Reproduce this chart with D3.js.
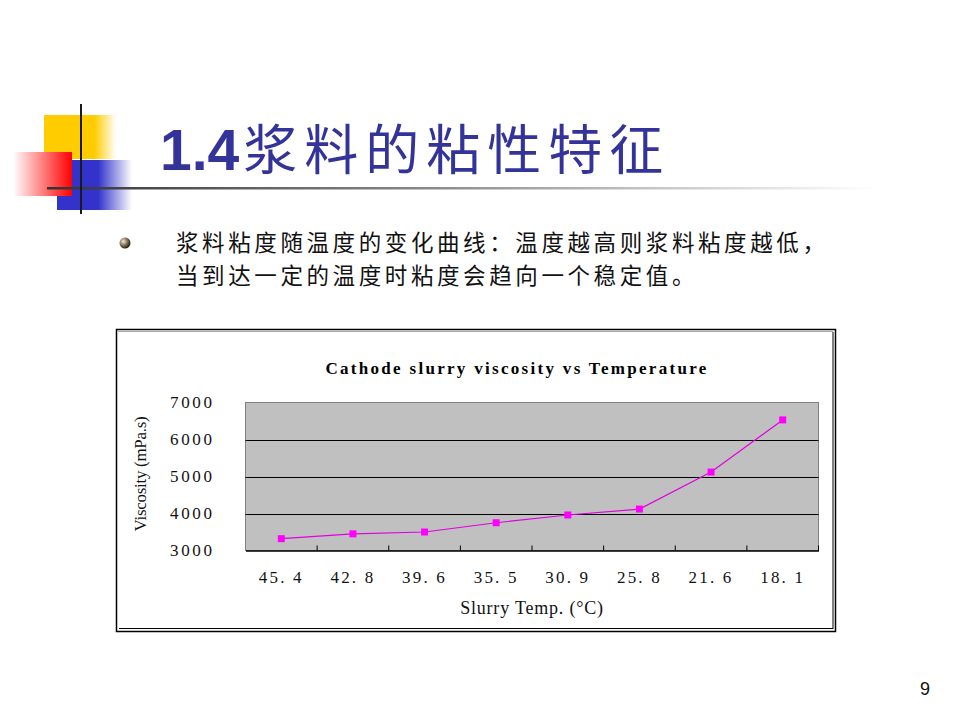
<!DOCTYPE html>
<html>
<head>
<meta charset="utf-8">
<script src="https://cdn.jsdelivr.net/npm/d3@7"></script>
<style>
  body { margin: 0; background: #fff; }
  svg { display: block; }
</style>
</head>
<body>
<svg width="960" height="720"></svg>
<script>
const temps = ["45.4", "42.8", "39.6", "35.5", "30.9", "25.8", "21.6", "18.1"];
const tempLabels = ["45. 4", "42. 8", "39. 6", "35. 5", "30. 9", "25. 8", "21. 6", "18. 1"];
const viscosity = [3320, 3450, 3500, 3750, 3960, 4120, 5120, 6530];
const yTicks = [3000, 4000, 5000, 6000, 7000];

const svg = d3.select("svg");
const defs = svg.append("defs");

function grad(id, stops, x2 = "100%", y2 = "0%") {
    const g = defs.append("linearGradient").attr("id", id)
        .attr("x1", "0%").attr("y1", "0%").attr("x2", x2).attr("y2", y2);
    stops.forEach(s => g.append("stop").attr("offset", s[0]).attr("stop-color", s[1]));
}
grad("gYellow", [["0%", "#ffcc00"], ["70%", "#ffcc00"], ["100%", "#ffffff"]]);
grad("gBlue", [["0%", "#3333cc"], ["55%", "#3333cc"], ["100%", "#ffffff"]]);
grad("gRed", [["0%", "#ffffff"], ["100%", "#ff0000"]]);
grad("gRule", [["0%", "#333333"], ["45%", "#888888"], ["100%", "#ffffff"]]);

// slide decoration
svg.append("rect").attr("x", 44).attr("y", 115).attr("width", 72).attr("height", 44).attr("fill", "url(#gYellow)");
svg.append("rect").attr("x", 57).attr("y", 160).attr("width", 75).attr("height", 50).attr("fill", "url(#gBlue)");
svg.append("rect").attr("x", 13).attr("y", 152).attr("width", 59).attr("height", 44).attr("fill", "url(#gRed)");
svg.append("rect").attr("x", 47).attr("y", 187).attr("width", 830).attr("height", 2.5).attr("fill", "url(#gRule)");
svg.append("line").attr("x1", 81).attr("x2", 81).attr("y1", 104).attr("y2", 214)
    .attr("stroke", "#1a1a1a").attr("stroke-width", 2);

// title
const title = svg.append("text").attr("x", 160).attr("y", 170).attr("fill", "#333399")
    .style("font-family", "'Noto Sans CJK SC', sans-serif").style("font-size", "54px");
title.append("tspan").text("1.4").style("font-family", "Arial, 'Liberation Sans', sans-serif")
    .style("font-weight", "bold").style("font-size", "57px");
title.append("tspan").text("浆料的粘性特征").attr("dx", 4).style("letter-spacing", "7px");

// bullet text
const bulletGrad = defs.append("radialGradient").attr("id", "gBullet").attr("cx", "35%").attr("cy", "35%").attr("r", "65%");
bulletGrad.append("stop").attr("offset", "0%").attr("stop-color", "#f4ecd8");
bulletGrad.append("stop").attr("offset", "60%").attr("stop-color", "#7a6a4a");
bulletGrad.append("stop").attr("offset", "100%").attr("stop-color", "#2a2418");
svg.append("circle").attr("cx", 125).attr("cy", 243).attr("r", 5.5).attr("fill", "url(#gBullet)");

const lines = ["浆料粘度随温度的变化曲线：温度越高则浆料粘度越低，", "当到达一定的温度时粘度会趋向一个稳定值。"];
svg.append("text")
    .attr("fill", "#111")
    .style("font-family", "'Noto Sans CJK SC', sans-serif").style("font-size", "22.5px")
    .style("letter-spacing", "3.6px")
    .selectAll("tspan").data(lines).join("tspan")
    .attr("x", 176).attr("y", (d, i) => 251 + i * 32.8)
    .text(d => d);

// page number
svg.append("text").attr("x", 930).attr("y", 695).attr("text-anchor", "end")
    .style("font-family", "'Liberation Sans', Arial, sans-serif").style("font-size", "18px")
    .attr("fill", "#111").text("9");

// chart frame
svg.append("rect").attr("x", 116.5).attr("y", 329.5).attr("width", 719).attr("height", 302)
    .attr("fill", "#fff").attr("stroke", "#000").attr("stroke-width", 1.5);
svg.append("line").attr("x1", 833).attr("x2", 833).attr("y1", 332).attr("y2", 629).attr("stroke", "#000").attr("stroke-width", 1);
svg.append("line").attr("x1", 119).attr("x2", 833).attr("y1", 628.5).attr("y2", 628.5).attr("stroke", "#000").attr("stroke-width", 1);
svg.append("line").attr("x1", 118).attr("x2", 833).attr("y1", 331.5).attr("y2", 331.5).attr("stroke", "#aaa").attr("stroke-width", 1);

const plot = { left: 245.5, top: 402.5, right: 818.5, bottom: 550.5 };

const x = d3.scaleBand().domain(temps).range([plot.left, plot.right]);
const y = d3.scaleLinear().domain([3000, 7000]).range([plot.bottom, plot.top]);

svg.append("text").attr("x", 517).attr("y", 374).attr("text-anchor", "middle")
    .style("font-family", "'Liberation Serif', 'Times New Roman', serif")
    .style("font-size", "17px").style("font-weight", "bold").style("letter-spacing", "2.3px")
    .text("Cathode slurry viscosity vs Temperature");

svg.append("rect").attr("x", plot.left).attr("y", plot.top)
    .attr("width", plot.right - plot.left).attr("height", plot.bottom - plot.top)
    .attr("fill", "#c0c0c0").attr("stroke", "#808080").attr("stroke-width", 1);

// gridlines
svg.append("g").selectAll("line").data(yTicks.slice(1, -1)).join("line")
    .attr("x1", plot.left).attr("x2", plot.right)
    .attr("y1", d => Math.round(y(d)) + 0.5).attr("y2", d => Math.round(y(d)) + 0.5)
    .attr("stroke", "#000").attr("stroke-width", 1.2);

// y axis labels
const yAxis = svg.append("g").attr("transform", `translate(${plot.left},0)`)
    .call(d3.axisLeft(y).tickValues(yTicks).tickFormat(d3.format("d")).tickSize(0).tickPadding(31));
yAxis.select(".domain").remove();
yAxis.selectAll("text")
    .style("font-family", "'Liberation Serif', 'Times New Roman', serif")
    .style("font-size", "17px").style("letter-spacing", "2.6px").attr("fill", "#111");

// x axis
const xAxis = svg.append("g").attr("transform", `translate(0,${plot.bottom})`)
    .call(d3.axisBottom(x).tickSize(0).tickPadding(20).tickFormat((d, i) => tempLabels[i]));
xAxis.select(".domain").attr("stroke", "#000").attr("stroke-width", 1.5);
xAxis.selectAll("text")
    .style("font-family", "'Liberation Serif', 'Times New Roman', serif")
    .style("font-size", "17px").style("letter-spacing", "2.2px").attr("fill", "#111");
svg.append("g").selectAll("line").data(temps.slice(1).concat(["__end"])).join("line")
    .attr("x1", d => d === "__end" ? plot.right : x(d)).attr("x2", d => d === "__end" ? plot.right : x(d))
    .attr("y1", plot.bottom - 5).attr("y2", plot.bottom)
    .attr("stroke", "#000").attr("stroke-width", 1);

// axis titles
svg.append("text").attr("x", 532).attr("y", 614).attr("text-anchor", "middle")
    .style("font-family", "'Liberation Serif', 'Times New Roman', serif")
    .style("font-size", "18px").style("letter-spacing", "0.8px").attr("fill", "#111").text("Slurry Temp. (°C)");
svg.append("text").attr("transform", "translate(146,474) rotate(-90)").attr("text-anchor", "middle")
    .style("font-family", "'Liberation Serif', 'Times New Roman', serif")
    .style("font-size", "17px").style("letter-spacing", "-0.3px").attr("fill", "#111")
    .text("Viscosity (mPa.s)");

// series
const cx = d => x(d) + x.bandwidth() / 2;
svg.append("path").datum(viscosity)
    .attr("fill", "none").attr("stroke", "#e000e0").attr("stroke-width", 1.2)
    .attr("d", d3.line().x((d, i) => cx(temps[i])).y(d => y(d)));
svg.append("g").selectAll("rect").data(viscosity).join("rect")
    .attr("x", (d, i) => cx(temps[i]) - 3.5).attr("y", d => y(d) - 3.5)
    .attr("width", 7).attr("height", 7).attr("fill", "#ff00ff");
</script>
</body>
</html>
